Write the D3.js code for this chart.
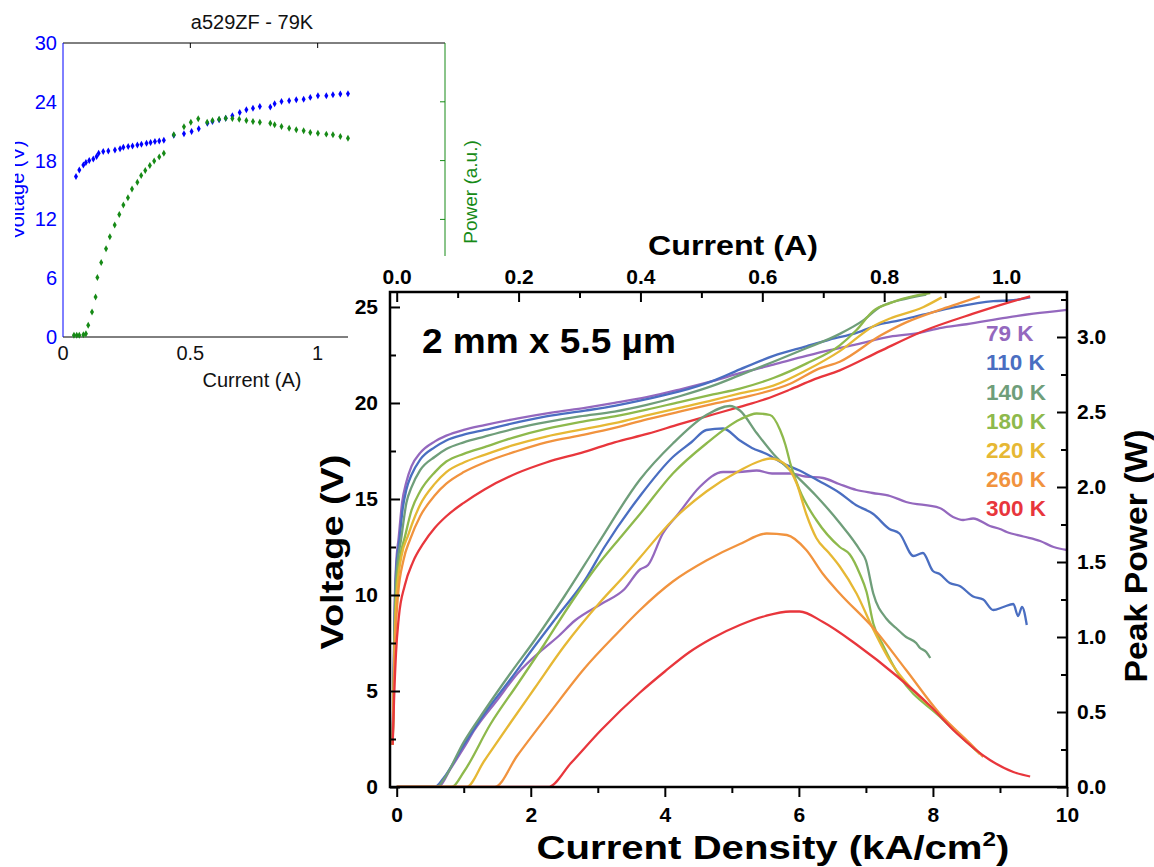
<!DOCTYPE html>
<html>
<head>
<meta charset="utf-8">
<script src="https://cdn.jsdelivr.net/npm/d3@7"></script>
<style>
  body { margin: 0; background: #fff; }
  svg { display: block; }
  text { font-family: "Liberation Sans", Arial, Helvetica, sans-serif; }
</style>
</head>
<body>
<svg id="chart" width="1154" height="867"></svg>
<script>
// ---------------- data ----------------
const temperatures = ["79 K", "110 K", "140 K", "180 K", "220 K", "260 K", "300 K"];

// Voltage (V) vs current density (kA/cm^2)
const voltage79 = [[-0.06,2.2],[-0.045,6],[-0.03,9.5],[-0.01,11.5],[0.03,13.0],[0.08,14.8],[0.145,15.9],[0.22,16.7],[0.35,17.4],[0.57,18.0],[0.74,18.3],[1.0,18.6],[1.31,18.85],[1.81,19.2],[2.31,19.5],[2.81,19.75],[3.25,20.0],[3.73,20.3],[4.22,20.7],[4.72,21.15],[5.12,21.55],[5.62,22.0],[6.11,22.45],[6.46,22.75],[6.86,23.05],[7.36,23.45],[7.8,23.65],[8.1,23.9],[8.5,24.1],[9.1,24.45],[9.5,24.65],[10.0,24.85]];
const voltage110 = [[-0.06,2.2],[-0.045,6],[-0.03,9],[-0.01,11.2],[0.045,13.0],[0.09,14.5],[0.145,15.5],[0.22,16.25],[0.35,17.05],[0.57,17.7],[0.74,18.05],[1.0,18.35],[1.31,18.6],[1.81,19.0],[2.23,19.3],[2.81,19.6],[3.25,19.85],[3.73,20.2],[4.22,20.6],[4.72,21.15],[5.12,21.75],[5.62,22.45],[6.11,22.95],[6.46,23.3],[6.86,23.65],[7.21,24.1],[7.5,24.3],[7.85,24.6],[8.35,25.0],[8.9,25.3],[9.2,25.35],[9.45,25.5]];
const voltage140 = [[-0.06,2.2],[-0.045,5.5],[-0.03,8.5],[-0.01,10.8],[0.07,13.0],[0.145,14.8],[0.22,15.6],[0.35,16.5],[0.57,17.2],[0.74,17.6],[1.0,17.95],[1.31,18.25],[1.81,18.7],[2.23,19.0],[2.73,19.3],[3.25,19.55],[3.73,19.9],[4.22,20.35],[4.72,20.9],[5.12,21.45],[5.62,22.15],[6.11,22.85],[6.46,23.35],[6.61,23.6],[6.96,24.3],[7.21,25.0],[7.5,25.35],[7.9,25.65]];
const voltage180 = [[-0.06,2.2],[-0.045,5],[-0.03,8],[0.0,10.5],[0.05,12.0],[0.12,13.0],[0.22,14.4],[0.35,15.4],[0.57,16.4],[0.74,16.95],[1.0,17.35],[1.31,17.7],[1.74,18.2],[2.23,18.65],[2.73,19.0],[3.25,19.3],[3.73,19.65],[4.22,20.05],[4.72,20.45],[5.12,20.75],[5.62,21.3],[6.11,22.05],[6.61,23.0],[6.86,23.8],[7.11,24.8],[7.36,25.2],[7.76,25.6],[7.96,25.72]];
const voltage220 = [[-0.06,2.2],[-0.045,5],[-0.025,8],[0.0,10],[0.07,12.0],[0.17,13.1],[0.24,13.8],[0.35,14.7],[0.57,15.8],[0.74,16.4],[1.0,16.9],[1.31,17.3],[1.74,17.8],[2.23,18.25],[2.73,18.6],[3.25,18.95],[3.73,19.35],[4.22,19.75],[4.72,20.15],[5.12,20.5],[5.62,20.9],[6.11,21.7],[6.61,22.7],[7.11,24.0],[7.36,24.4],[7.86,25.0],[8.13,25.5]];
const voltage260 = [[-0.06,2.2],[-0.045,5],[-0.02,7.8],[0.02,10],[0.1,11.8],[0.2,12.9],[0.35,14.1],[0.57,15.2],[0.74,15.8],[1.0,16.4],[1.31,16.9],[1.8,17.5],[2.23,17.95],[2.8,18.35],[3.25,18.7],[3.73,19.15],[4.22,19.55],[4.72,19.95],[5.12,20.25],[5.87,21.0],[6.31,21.8],[6.61,22.15],[7.21,23.5],[7.6,24.2],[8.1,24.85],[8.4,25.2],[8.7,25.55]];
const voltage300 = [[-0.06,2.2],[-0.04,4.5],[-0.01,7.0],[0.03,8.8],[0.12,10.5],[0.24,11.7],[0.4,12.7],[0.57,13.5],[0.74,14.1],[1.0,14.8],[1.31,15.5],[1.8,16.35],[2.23,16.9],[2.8,17.45],[3.25,17.95],[3.75,18.4],[4.22,18.9],[4.72,19.4],[5.12,19.8],[5.5,20.2],[5.87,20.7],[6.21,21.2],[6.61,21.7],[7.21,22.7],[7.86,23.75],[8.6,24.65],[9.1,25.2],[9.45,25.55]];

// Peak power (W) vs current density (kA/cm^2)
const power79 = [[0,0],[0.62,0],[0.8,0.12],[1.0,0.26],[1.16,0.38],[1.5,0.58],[1.81,0.76],[2.16,0.91],[2.4,1.0],[2.66,1.11],[3.05,1.22],[3.4,1.32],[3.63,1.45],[3.75,1.48],[3.97,1.69],[4.2,1.82],[4.52,2.0],[4.87,2.1],[5.1,2.1],[5.37,2.11],[5.6,2.09],[5.87,2.09],[6.1,2.07],[6.36,2.06],[6.6,2.02],[6.86,1.98],[7.1,1.96],[7.36,1.94],[7.6,1.9],[8.1,1.86],[8.3,1.8],[8.45,1.78],[8.6,1.79],[8.85,1.74],[9.0,1.72],[9.1,1.7],[9.35,1.67],[9.6,1.64],[9.8,1.6],[10.0,1.58]];
const power110 = [[0,0],[0.57,0],[0.7,0.06],[1.0,0.28],[1.31,0.49],[1.7,0.72],[2.06,0.94],[2.4,1.14],[2.81,1.38],[3.1,1.6],[3.63,1.94],[4.12,2.2],[4.4,2.3],[4.62,2.38],[4.87,2.39],[5.12,2.31],[5.3,2.26],[5.52,2.22],[5.75,2.16],[6.01,2.11],[6.3,2.04],[6.61,1.96],[6.85,1.88],[7.11,1.82],[7.35,1.72],[7.5,1.69],[7.71,1.54],[7.85,1.56],[8.0,1.44],[8.1,1.42],[8.25,1.36],[8.4,1.34],[8.6,1.27],[8.75,1.25],[8.9,1.18],[9.05,1.2],[9.2,1.22],[9.27,1.14],[9.33,1.2],[9.4,1.08]];
const power140 = [[0,0],[0.6,0],[0.7,0.05],[1.0,0.3],[1.31,0.51],[1.7,0.76],[2.06,0.98],[2.5,1.27],[3.0,1.62],[3.63,2.05],[4.12,2.29],[4.62,2.48],[4.97,2.54],[5.12,2.51],[5.37,2.36],[5.62,2.22],[5.97,2.07],[6.26,1.94],[6.61,1.76],[6.91,1.58],[7.0,1.51],[7.11,1.29],[7.31,1.12],[7.45,1.06],[7.6,1.0],[7.75,0.96],[7.8,0.93],[7.9,0.9],[7.96,0.86]];
const power180 = [[0,0],[0.82,0],[1.0,0.1],[1.4,0.42],[1.81,0.69],[2.2,0.95],[2.56,1.2],[3.0,1.48],[3.35,1.67],[3.63,1.82],[4.12,2.09],[4.62,2.29],[5.12,2.45],[5.37,2.49],[5.57,2.48],[5.72,2.38],[5.8,2.28],[5.87,2.16],[6.01,1.98],[6.26,1.78],[6.61,1.6],[6.76,1.55],[6.91,1.42],[7.01,1.3],[7.11,1.09],[7.26,0.94],[7.5,0.74],[8.1,0.47],[8.7,0.22]];
const power220 = [[0,0],[1.04,0],[1.3,0.17],[1.7,0.43],[2.06,0.66],[2.5,0.94],[3.05,1.24],[3.4,1.41],[3.63,1.53],[4.12,1.78],[4.62,1.97],[5.12,2.11],[5.4,2.17],[5.57,2.19],[5.77,2.16],[5.97,2.02],[6.11,1.82],[6.26,1.66],[6.45,1.56],[6.61,1.47],[6.86,1.29],[7.11,1.05],[7.36,0.84],[7.5,0.75],[8.1,0.48],[8.7,0.22]];
const power260 = [[0,0],[1.46,0],[1.8,0.21],[2.31,0.51],[2.8,0.79],[3.3,1.03],[3.63,1.18],[4.12,1.37],[4.62,1.51],[5.12,1.62],[5.52,1.69],[5.82,1.68],[6.11,1.58],[6.36,1.42],[6.61,1.29],[7.11,1.06],[7.6,0.78],[8.1,0.49],[8.6,0.27],[8.75,0.2]];
const power300 = [[0,0],[2.26,0],[2.6,0.16],[3.05,0.38],[3.63,0.63],[4.0,0.77],[4.37,0.9],[4.7,0.99],[5.12,1.08],[5.5,1.14],[5.87,1.17],[6.01,1.17],[6.36,1.1],[6.86,0.95],[7.46,0.74],[7.96,0.54],[8.35,0.36],[8.85,0.18],[9.2,0.1],[9.45,0.07]];

const voltageSeries = [voltage79, voltage110, voltage140, voltage180, voltage220, voltage260, voltage300];
const powerSeries = [power79, power110, power140, power180, power220, power260, power300];

// Tick values
const densityTicks = [0, 2, 4, 6, 8, 10];
const currentTicks = [0, 0.2, 0.4, 0.6, 0.8, 1.0];
const voltageTicks = [0, 5, 10, 15, 20, 25];
const powerTicks = [0, 0.5, 1.0, 1.5, 2.0, 2.5, 3.0];

// Small measurement at 79 K: current (A) vs voltage (V) and power (a.u.)
const insetVoltage = [[0.051,16.37],[0.064,17.05],[0.080,17.56],[0.090,17.80],[0.103,18.0],[0.119,18.17],[0.132,18.41],[0.140,18.75],[0.158,18.92],[0.178,18.99],[0.204,19.09],[0.224,19.2],[0.237,19.37],[0.256,19.43],[0.273,19.5],[0.292,19.6],[0.308,19.67],[0.328,19.77],[0.344,19.84],[0.361,19.95],[0.378,20.01],[0.396,20.08],[0.435,20.59],[0.475,20.73],[0.505,20.97],[0.533,21.24],[0.567,21.82],[0.587,21.99],[0.613,22.16],[0.639,22.33],[0.665,22.57],[0.694,22.91],[0.720,23.18],[0.746,23.35],[0.773,23.52],[0.814,23.46],[0.831,23.8],[0.858,24.04],[0.888,24.1],[0.916,24.2],[0.945,24.27],[0.971,24.45],[1.001,24.62],[1.034,24.62],[1.060,24.72],[1.089,24.79],[1.119,24.82]];
const insetPower = [[0.043,0.17],[0.054,0.17],[0.064,0.17],[0.080,0.24],[0.090,0.34],[0.099,1.19],[0.114,2.56],[0.128,4.09],[0.135,6.07],[0.150,7.6],[0.169,9.0],[0.184,10.23],[0.203,11.42],[0.221,12.51],[0.237,13.47],[0.255,14.22],[0.271,15.1],[0.292,15.79],[0.307,16.47],[0.323,16.98],[0.341,17.49],[0.358,17.97],[0.378,18.38],[0.396,18.75],[0.435,20.63],[0.475,21.45],[0.502,21.92],[0.531,22.26],[0.566,21.92],[0.587,22.09],[0.613,22.23],[0.639,22.33],[0.665,22.3],[0.692,22.23],[0.720,22.09],[0.746,21.99],[0.773,21.92],[0.814,21.82],[0.831,21.65],[0.858,21.48],[0.888,21.31],[0.916,21.14],[0.945,21.04],[0.971,20.87],[1.001,20.8],[1.034,20.7],[1.060,20.63],[1.089,20.46],[1.119,20.29]];
const insetCurrentTicks = [0, 0.5, 1];
const insetVoltageTicks = [0, 6, 12, 18, 24, 30];

// ---------------- styles ----------------
const seriesColors = ["#9468be", "#4a6ec1", "#6f9e7a", "#8eb94c", "#e6b834", "#f1933e", "#e8363c"];
const FONT = '"Liberation Sans", Arial, Helvetica, sans-serif';
const insetBlue = "#0000ff";
const insetGreen = "#168a16";

// ---------------- drawing ----------------
const svg = d3.select("#chart");

// Stretch a text element horizontally (in its own frame) to a target width.
function placeFitted(sel, x, y, rot, width) {
  const w0 = sel.node().getComputedTextLength();
  const s = width / w0;
  sel.attr("transform", `translate(${x},${y}) rotate(${rot}) scale(${s},1)`);
}

// ===== inset panel =====
const inset = svg.append("g");
const xA = d3.scaleLinear([0, 1.5], [63, 445]);
const yA = d3.scaleLinear([0, 30], [337, 43]);

inset.append("text").attr("x", 252).attr("y", 29).attr("text-anchor", "middle")
  .attr("font-size", 20).attr("fill", "#111").text("a529ZF - 79K");

inset.append("line").attr("x1", 63).attr("x2", 445).attr("y1", 43).attr("y2", 43).attr("stroke", "#000");
inset.append("line").attr("x1", 63).attr("x2", 445).attr("y1", 337).attr("y2", 337).attr("stroke", "#000");
inset.append("line").attr("x1", 63).attr("x2", 63).attr("y1", 43).attr("y2", 337).attr("stroke", insetBlue);
inset.append("line").attr("x1", 445).attr("x2", 445).attr("y1", 43).attr("y2", 337).attr("stroke", insetGreen);

inset.selectAll(".tt").data(insetCurrentTicks.filter(d => d > 0)).join("line")
  .attr("x1", d => xA(d)).attr("x2", d => xA(d)).attr("y1", 43).attr("y2", 48).attr("stroke", "#000");
inset.selectAll(".rt").data(insetVoltageTicks.filter(d => d > 0 && d < 30)).join("line")
  .attr("x1", 440).attr("x2", 445).attr("y1", d => yA(d)).attr("y2", d => yA(d)).attr("stroke", insetGreen);

inset.selectAll(".yl").data(insetVoltageTicks).join("text")
  .attr("x", 57).attr("y", d => yA(d)).attr("dy", "0.35em").attr("text-anchor", "end")
  .attr("font-size", 20).attr("fill", insetBlue).text(d => d);
inset.selectAll(".xl").data(insetCurrentTicks).join("text")
  .attr("x", d => xA(d)).attr("y", 360).attr("text-anchor", "middle")
  .attr("font-size", 20).attr("fill", "#111").text(d => d3.format("~g")(d));
inset.append("text").attr("x", 252).attr("y", 387).attr("text-anchor", "middle")
  .attr("font-size", 20).attr("fill", "#111").text("Current (A)");

// left-hand voltage title, partly cut off at the panel edge
svg.append("clipPath").attr("id", "leftcut").append("rect")
  .attr("x", 15).attr("y", 0).attr("width", 200).attr("height", 400);
inset.append("g").attr("clip-path", "url(#leftcut)")
  .append("text")
  .attr("transform", "translate(24,190) rotate(-90)").attr("text-anchor", "middle")
  .attr("font-size", 20).attr("fill", insetBlue).text("Voltage (V)");
inset.append("text")
  .attr("transform", "translate(477,192) rotate(-90)").attr("text-anchor", "middle")
  .attr("font-size", 19).attr("fill", insetGreen).text("Power (a.u.)");

const marker = d3.symbol().type(d3.symbolDiamond).size(14);
inset.selectAll(".pv").data(insetVoltage).join("path")
  .attr("d", marker).attr("transform", d => `translate(${xA(d[0])},${yA(d[1])})`).attr("fill", insetBlue);
inset.selectAll(".pp").data(insetPower).join("path")
  .attr("d", marker).attr("transform", d => `translate(${xA(d[0])},${yA(d[1])})`).attr("fill", insetGreen);

// ===== main panel =====
svg.append("rect").attr("x", 348).attr("y", 256).attr("width", 1154 - 348).attr("height", 867 - 256).attr("fill", "#fff");

const L = 390, R = 1067, T = 292, B = 787;
const xJ = d3.scaleLinear([-0.1, 10], [L, R]);
const densityPerAmp = 1 / (0.2 * 5.5e-4) / 1000;   // kA/cm^2 per A for a 2 mm x 5.5 um ridge
const xI = d3.scaleLinear(xJ.domain().map(j => j / densityPerAmp), [L, R]);
const yV = d3.scaleLinear([0, 25.78], [B, T]);
const yP = d3.scaleLinear([0, 3.3], [B, T]);

svg.append("clipPath").attr("id", "plotclip").append("rect")
  .attr("x", L).attr("y", T).attr("width", R - L).attr("height", B - T);

const curves = svg.append("g").attr("clip-path", "url(#plotclip)");
const vLine = d3.line().x(d => xJ(d[0])).y(d => yV(d[1])).curve(d3.curveMonotoneX);
const pLine = d3.line().x(d => xJ(d[0])).y(d => yP(d[1])).curve(d3.curveMonotoneX);

curves.selectAll(".v").data(voltageSeries).join("path")
  .attr("d", vLine).attr("fill", "none").attr("stroke", (d, i) => seriesColors[i])
  .attr("stroke-width", 2.3).attr("stroke-linejoin", "round");
curves.selectAll(".p").data(powerSeries).join("path")
  .attr("d", pLine).attr("fill", "none").attr("stroke", (d, i) => seriesColors[i])
  .attr("stroke-width", 2.3).attr("stroke-linejoin", "round");

// axes
function styleAxis(g, size) {
  g.select(".domain").remove();
  g.attr("font-size", size).attr("font-family", FONT).attr("font-weight", "bold");
  g.selectAll("line").attr("stroke", "#000").attr("stroke-width", 2);
  g.selectAll("text").attr("fill", "#000");
}
const tickFont = 21;

svg.append("g").attr("transform", `translate(0,${B})`)
  .call(d3.axisBottom(xJ).tickValues(densityTicks).tickFormat(d3.format("d")).tickSize(10).tickPadding(10))
  .call(g => styleAxis(g, tickFont));
svg.append("g").attr("transform", `translate(0,${B})`)
  .call(d3.axisBottom(xJ).tickValues([1, 3, 5, 7, 9]).tickFormat("").tickSize(6))
  .call(g => styleAxis(g, tickFont));

svg.append("g").attr("transform", `translate(0,${T})`)
  .call(d3.axisTop(xI).tickValues(currentTicks).tickFormat(d3.format(".1f")).tickSize(-10).tickPadding(8))
  .call(g => styleAxis(g, tickFont));
svg.append("g").attr("transform", `translate(0,${T})`)
  .call(d3.axisTop(xI).tickValues([0.1, 0.3, 0.5, 0.7, 0.9]).tickFormat("").tickSize(-6))
  .call(g => styleAxis(g, tickFont));

svg.append("g").attr("transform", `translate(${L},0)`)
  .call(d3.axisLeft(yV).tickValues(voltageTicks).tickFormat(d3.format("d")).tickSize(-10).tickPadding(12))
  .call(g => styleAxis(g, tickFont));
svg.append("g").attr("transform", `translate(${L},0)`)
  .call(d3.axisLeft(yV).tickValues([2.5, 7.5, 12.5, 17.5, 22.5]).tickFormat("").tickSize(-6))
  .call(g => styleAxis(g, tickFont));

svg.append("g").attr("transform", `translate(${R},0)`)
  .call(d3.axisRight(yP).tickValues(powerTicks).tickFormat(d3.format(".1f")).tickSize(-10).tickPadding(10))
  .call(g => styleAxis(g, tickFont));
svg.append("g").attr("transform", `translate(${R},0)`)
  .call(d3.axisRight(yP).tickValues([0.25, 0.75, 1.25, 1.75, 2.25, 2.75, 3.25]).tickFormat("").tickSize(-6))
  .call(g => styleAxis(g, tickFont));

svg.append("rect").attr("x", L).attr("y", T).attr("width", R - L).attr("height", B - T)
  .attr("fill", "none").attr("stroke", "#000").attr("stroke-width", 2.5);

// axis titles
const titleTop = svg.append("text").attr("text-anchor", "middle").attr("font-weight", "bold")
  .attr("font-size", 27).text("Current (A)");
placeFitted(titleTop, 733, 255, 0, 170);

const titleBottom = svg.append("text").attr("text-anchor", "middle").attr("font-weight", "bold")
  .attr("font-size", 33);
titleBottom.append("tspan").text("Current Density (kA/cm");
titleBottom.append("tspan").attr("font-size", 20).attr("dy", -13).text("2");
titleBottom.append("tspan").attr("dy", 13).text(")");
placeFitted(titleBottom, 773, 859, 0, 473);

const titleLeft = svg.append("text").attr("text-anchor", "middle").attr("font-weight", "bold")
  .attr("font-size", 32).text("Voltage (V)");
placeFitted(titleLeft, 343, 552, -90, 195);

const titleRight = svg.append("text").attr("text-anchor", "middle").attr("font-weight", "bold")
  .attr("font-size", 31).text("Peak Power (W)");
placeFitted(titleRight, 1147, 556, -90, 253);

// device size annotation
const note = svg.append("text").attr("font-weight", "bold").attr("font-size", 35).text("2 mm x 5.5 µm");
placeFitted(note, 422, 353, 0, 254);

// legend
svg.selectAll(".legend").data(temperatures).join("text")
  .attr("x", 986).attr("y", (d, i) => 333 + i * 29.2).attr("dy", "0.36em")
  .attr("font-weight", "bold").attr("font-size", 22.5)
  .attr("fill", (d, i) => seriesColors[i]).text(d => d);
</script>
</body>
</html>
